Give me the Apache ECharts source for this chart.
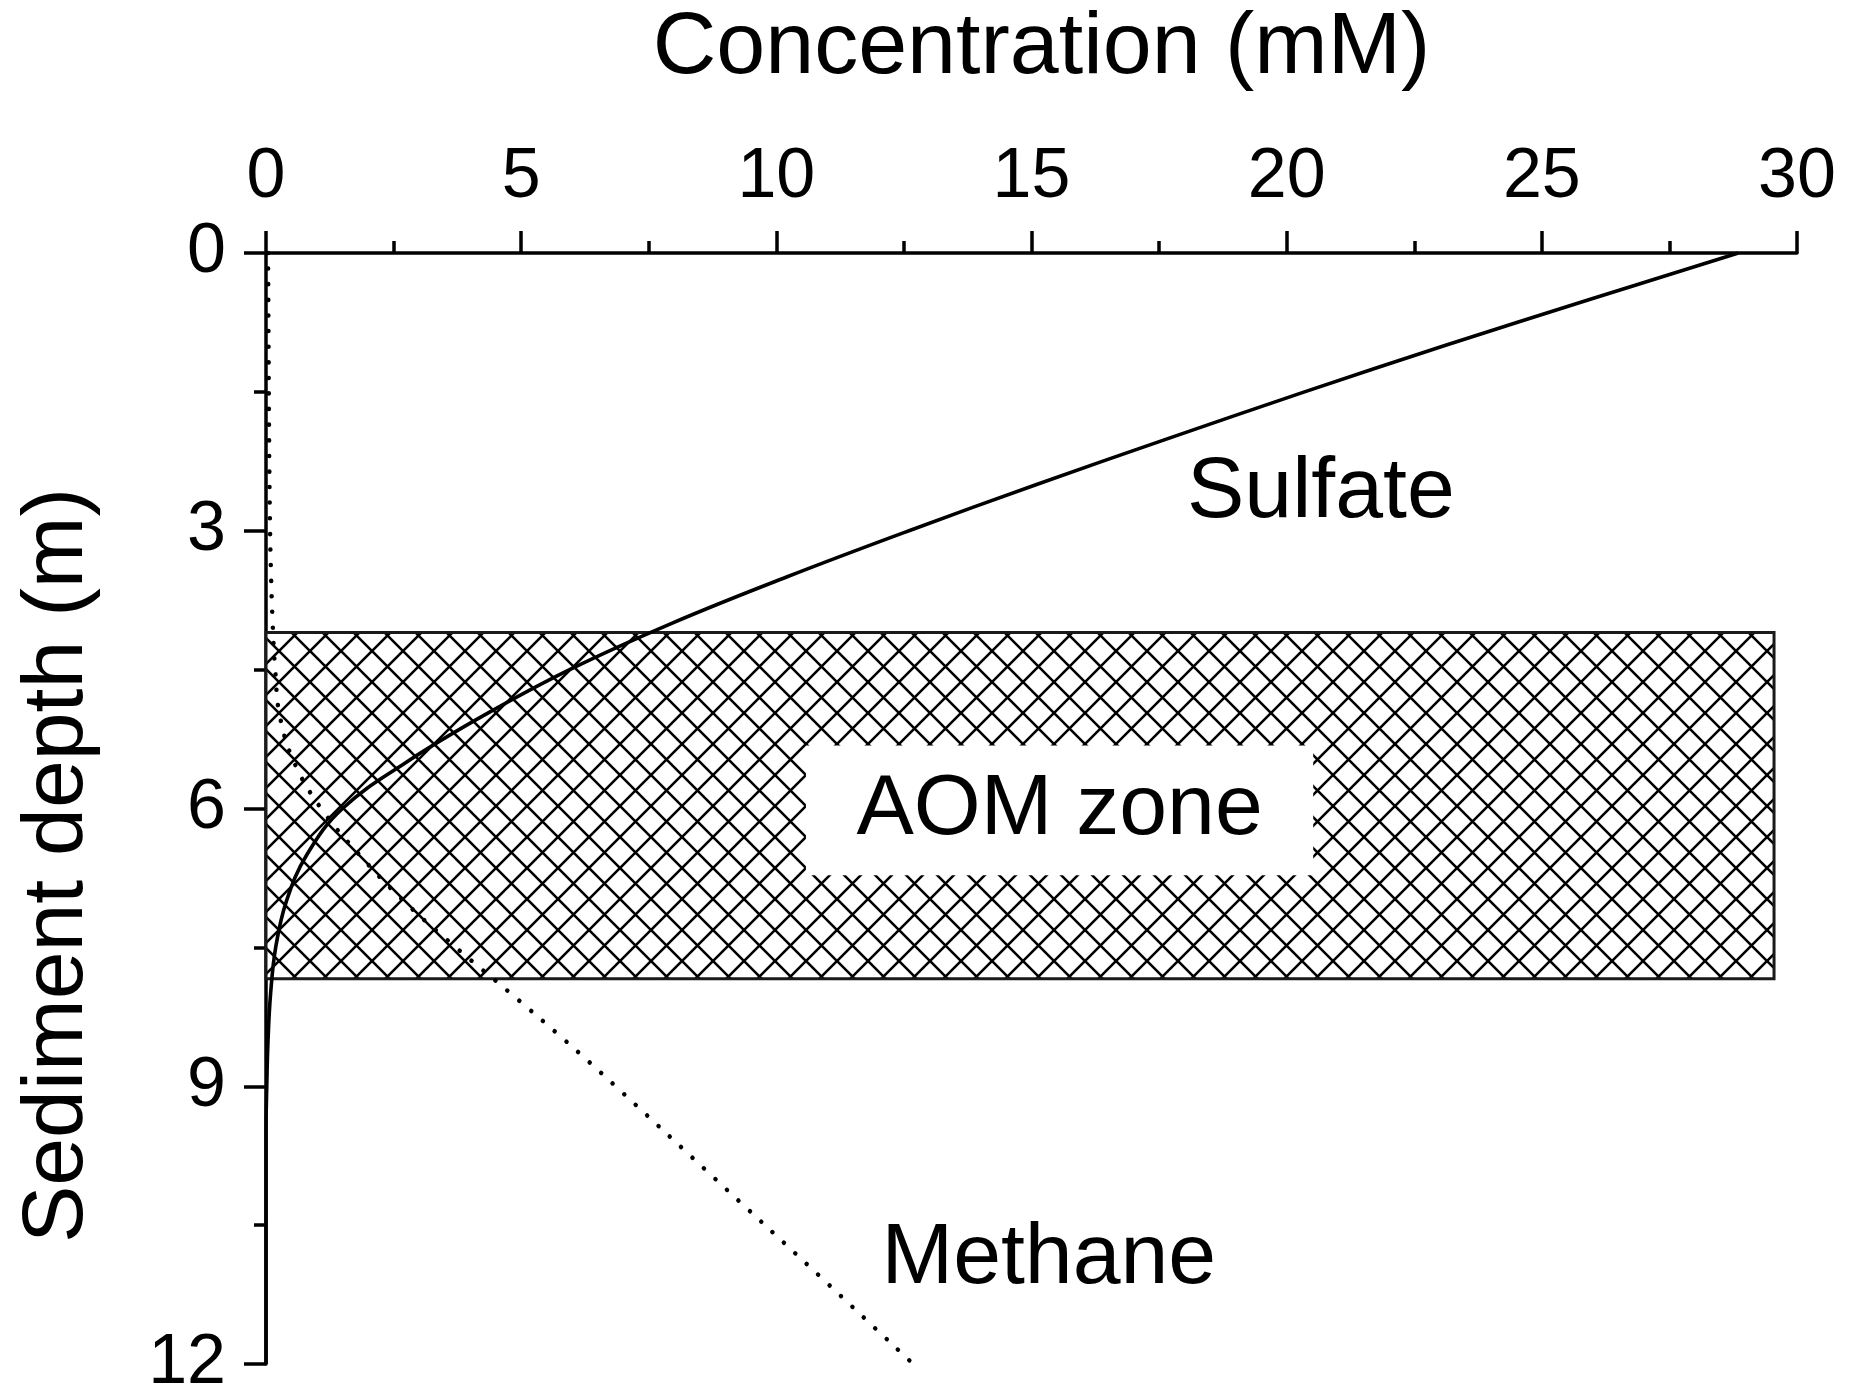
<!DOCTYPE html>
<html>
<head>
<meta charset="utf-8">
<title>Sulfate and methane profiles</title>
<script src="https://cdn.jsdelivr.net/npm/echarts@6/dist/echarts.min.js"></script>
<style>
  html, body { margin: 0; padding: 0; background: #fff; }
  #chart { width: 1857px; height: 1399px; }
</style>
</head>
<body>
<div id="chart"></div>
<script>
// depth (m) and concentration (mM)
const sulfateDepth = [0, 0.5, 1.0, 1.5, 2.0, 2.5, 3.0, 3.5, 4.0, 4.5, 5.0, 5.5, 6.0, 6.5, 7.0, 7.5, 8.0, 8.5, 9.0, 9.5, 12];
const sulfateConc = [28.85, 25.95, 23.1, 20.35, 17.7, 15.1, 12.6, 10.2, 7.95, 5.95, 4.25, 2.75, 1.5, 0.8, 0.4, 0.19, 0.09, 0.04, 0.015, 0, 0];

const methaneDepth = [0, 1, 2, 3, 3.5, 4.0, 4.5, 5.0, 5.5, 6.0, 6.5, 7.0, 7.5, 8.0, 8.5, 9.0, 10.0, 11.0, 12.0];
const methaneConc = [0.04, 0.05, 0.06, 0.08, 0.1, 0.13, 0.18, 0.27, 0.55, 1.08, 1.83, 2.7, 3.72, 4.8, 5.85, 6.85, 8.8, 10.75, 12.68];

// AOM zone rectangle and its white label box
const aomConc = [0, 29.55];
const aomDepth = [4.1, 7.84];
const aomBoxConc = [10.58, 20.52];
const aomBoxDepth = [5.32, 6.72];
const aomText = 'AOM zone';

// curve labels
const curveNames = ['Sulfate', 'Methane'];
const curveNameConc = [20.67, 15.34];
const curveNameDepth = [2.6, 10.87];

const FONT = "'Liberation Sans', Arial, sans-serif";

const makeHatch = (size) => {
  const c = document.createElement('canvas');
  c.width = size;
  c.height = size;
  const ctx = c.getContext('2d');
  ctx.fillStyle = '#fff';
  ctx.fillRect(0, 0, size, size);
  ctx.strokeStyle = '#000';
  ctx.lineWidth = 2.6;
  ctx.beginPath();
  ctx.moveTo(-2, -2);
  ctx.lineTo(size + 2, size + 2);
  ctx.moveTo(size + 2, -2);
  ctx.lineTo(-2, size + 2);
  ctx.stroke();
  return c;
};

const toPairs = (xs, ys) => xs.map((x, i) => [x, ys[i]]);

const rectFrom = (api) => {
  const p0 = api.coord([api.value(0), api.value(1)]);
  const p1 = api.coord([api.value(2), api.value(3)]);
  return {
    x: Math.min(p0[0], p1[0]),
    y: Math.min(p0[1], p1[1]),
    width: Math.abs(p1[0] - p0[0]),
    height: Math.abs(p1[1] - p0[1])
  };
};

const hatch = { image: makeHatch(31), repeat: 'repeat' };

const axisLineStyle = { color: '#000', width: 3.5 };

const chart = echarts.init(document.getElementById('chart'));

chart.setOption({
  animation: false,
  backgroundColor: '#fff',
  textStyle: { fontFamily: FONT },
  grid: { left: 266, top: 251, right: 60, bottom: 35 },
  xAxis: {
    type: 'value',
    position: 'top',
    min: 0,
    max: 30,
    interval: 5,
    name: 'Concentration (mM)',
    nameLocation: 'middle',
    nameGap: 160,
    nameTextStyle: { fontSize: 88, color: '#000', fontFamily: FONT, padding: [0, 0, 0, 20] },
    axisLine: { onZero: false, lineStyle: axisLineStyle },
    axisTick: { inside: false, length: 22, lineStyle: axisLineStyle },
    minorTick: { show: true, splitNumber: 2, length: 12, lineStyle: axisLineStyle },
    axisLabel: { fontSize: 70, color: '#000', margin: 40, fontFamily: FONT },
    splitLine: { show: false }
  },
  yAxis: {
    type: 'value',
    inverse: true,
    min: 0,
    max: 12,
    interval: 3,
    name: 'Sediment depth (m)',
    nameLocation: 'middle',
    nameGap: 165,
    nameTextStyle: { fontSize: 86, color: '#000', fontFamily: FONT, padding: [0, 114, 0, 0] },
    axisLine: { onZero: false, lineStyle: axisLineStyle },
    axisTick: { inside: false, length: 22, lineStyle: axisLineStyle },
    minorTick: { show: true, splitNumber: 2, length: 12, lineStyle: axisLineStyle },
    axisLabel: { fontSize: 70, color: '#000', margin: 40, fontFamily: FONT },
    splitLine: { show: false }
  },
  series: [
    {
      name: 'AOM zone',
      type: 'custom',
      z: 1,
      silent: true,
      encode: { x: [0, 2], y: [1, 3] },
      data: [[aomConc[0], aomDepth[0], aomConc[1], aomDepth[1]]],
      renderItem: (params, api) => ({
        type: 'rect',
        shape: rectFrom(api),
        style: { fill: hatch, stroke: '#1a1a1a', lineWidth: 3 }
      })
    },
    {
      name: 'AOM label',
      type: 'custom',
      z: 2,
      silent: true,
      encode: { x: [0, 2], y: [1, 3] },
      data: [[aomBoxConc[0], aomBoxDepth[0], aomBoxConc[1], aomBoxDepth[1]]],
      renderItem: (params, api) => {
        const r = rectFrom(api);
        return {
          type: 'group',
          children: [
            { type: 'rect', shape: r, style: { fill: '#fff' } },
            {
              type: 'text',
              style: {
                text: aomText,
                x: r.x + r.width / 2,
                y: r.y + r.height / 2,
                align: 'center',
                verticalAlign: 'middle',
                fill: '#000',
                font: '86px ' + FONT
              }
            }
          ]
        };
      }
    },
    {
      name: 'Sulfate',
      type: 'line',
      z: 3,
      smooth: 0.4,
      showSymbol: false,
      data: toPairs(sulfateConc, sulfateDepth),
      lineStyle: { color: '#000', width: 3.6 }
    },
    {
      name: 'Methane',
      type: 'line',
      z: 3,
      smooth: 0.4,
      showSymbol: false,
      data: toPairs(methaneConc, methaneDepth),
      lineStyle: { color: '#000', width: 4.5, type: [0.1, 15.5], cap: 'round' }
    },
    {
      name: 'Curve labels',
      type: 'custom',
      z: 4,
      silent: true,
      data: toPairs(curveNameConc, curveNameDepth),
      renderItem: (params, api) => {
        const p = api.coord([api.value(0), api.value(1)]);
        return {
          type: 'text',
          style: {
            text: curveNames[params.dataIndex],
            x: p[0],
            y: p[1],
            align: 'center',
            verticalAlign: 'middle',
            fill: '#000',
            font: '86px ' + FONT
          }
        };
      }
    }
  ]
});
</script>
</body>
</html>
